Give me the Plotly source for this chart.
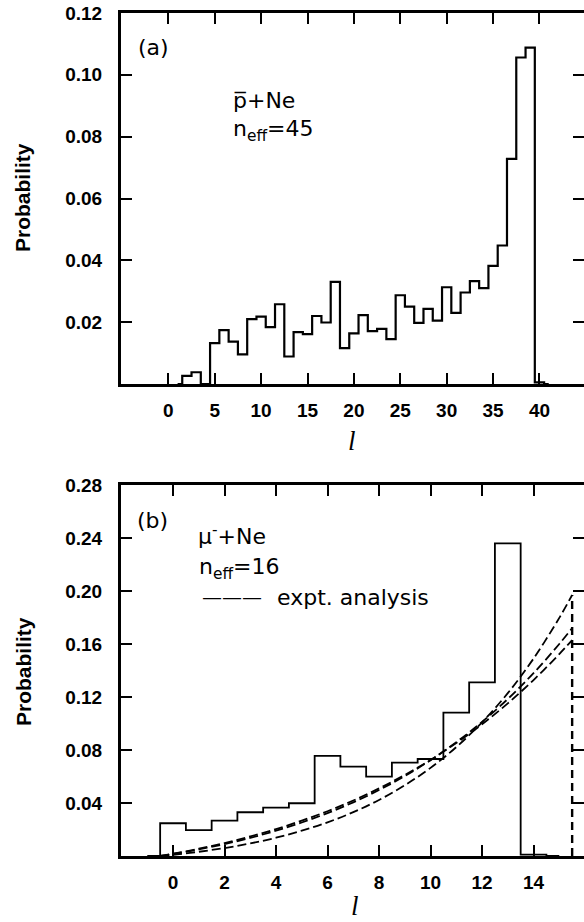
import plotly.graph_objects as go

# ---------------- data ----------------
# panel (a): pbar + Ne, n_eff = 45
l_a = list(range(1, 42))
p_a = [0, 0.0026, 0.0038, 0, 0.0132, 0.0174, 0.0137, 0.0096, 0.0210, 0.0218,
       0.0184, 0.0258, 0.0089, 0.0168, 0.0161, 0.0220, 0.0199, 0.0330, 0.0116, 0.0164,
       0.0223, 0.0171, 0.0178, 0.0145, 0.0287, 0.0250, 0.0198, 0.0243, 0.0205, 0.0313,
       0.0230, 0.0296, 0.0333, 0.0310, 0.0382, 0.0448, 0.0728, 0.1056, 0.1088, 0.0005, 0]

# panel (b): mu- + Ne, n_eff = 16
l_b = list(range(-1, 16))
p_b = [0, 0.0247, 0.0196, 0.0267, 0.0330, 0.0365, 0.0398, 0.0755, 0.0674, 0.0599,
       0.0704, 0.0732, 0.1082, 0.1311, 0.2360, 0.0010, 0]

# expt. analysis curves
l_fit = [-0.5, 0, 1, 2, 3, 4, 5, 6, 7, 8, 9, 10, 11, 12, 13, 14, 15, 15.5]
fit_1 = [0, 0.0009, 0.0032, 0.0060, 0.0095, 0.0138, 0.0191, 0.0254, 0.0331, 0.0423,
         0.0534, 0.0665, 0.0822, 0.1009, 0.1229, 0.1490, 0.1797, 0.1970]
fit_2 = [0, 0.0015, 0.0050, 0.0090, 0.0137, 0.0191, 0.0253, 0.0324, 0.0405, 0.0498,
         0.0603, 0.0723, 0.0859, 0.1012, 0.1185, 0.1380, 0.1600, 0.1720]
fit_3 = [0, 0.0017, 0.0055, 0.0098, 0.0148, 0.0203, 0.0267, 0.0338, 0.0419, 0.0510,
         0.0612, 0.0725, 0.0853, 0.0994, 0.1152, 0.1328, 0.1524, 0.1630]
l_cut = 15.5

xticks_a = [0, 5, 10, 15, 20, 25, 30, 35, 40]
yticks_a = [0.02, 0.04, 0.06, 0.08, 0.10, 0.12]
yticklabels_a = ["0.02", "0.04", "0.06", "0.08", "0.10", "0.12"]
xticks_b = [0, 2, 4, 6, 8, 10, 12, 14]
yticks_b = [0.04, 0.08, 0.12, 0.16, 0.20, 0.24, 0.28]
yticklabels_b = ["0.04", "0.08", "0.12", "0.16", "0.20", "0.24", "0.28"]

# ---------------- figure ----------------
W, H = 584, 922
ML, MR, MT, MB = 121, 0, 13, 66
PH = H - MT - MB
top_lo = 1 - 371 / PH
bot_hi = 1 - (485 - MT) / PH

fig = go.Figure()

fig.add_trace(go.Scatter(x=l_a, y=p_a, mode="lines", line=dict(shape="hvh", color="black", width=2.2),
                         xaxis="x", yaxis="y", showlegend=False, hoverinfo="skip"))
fig.add_trace(go.Scatter(x=l_b, y=p_b, mode="lines", line=dict(shape="hvh", color="black", width=1.8),
                         xaxis="x2", yaxis="y2", showlegend=False, hoverinfo="skip"))
for f in (fit_1, fit_2, fit_3):
    fig.add_trace(go.Scatter(x=l_fit, y=f, mode="lines",
                             line=dict(shape="spline", color="black", width=1.8, dash="9px,4px"),
                             xaxis="x2", yaxis="y2", showlegend=False, hoverinfo="skip"))
fig.add_trace(go.Scatter(x=[l_cut, l_cut], y=[0, fit_1[-1]], mode="lines",
                         line=dict(color="black", width=2.4, dash="8px,5px"),
                         xaxis="x2", yaxis="y2", showlegend=False, hoverinfo="skip"))
# empty traces for right-side tick axes
fig.add_trace(go.Scatter(x=[], y=[], xaxis="x", yaxis="y3", showlegend=False))
fig.add_trace(go.Scatter(x=[], y=[], xaxis="x2", yaxis="y4", showlegend=False))

tickfont = dict(family="Liberation Sans, Arial, sans-serif", size=19, color="black", weight="bold")

xcommon = dict(showgrid=False, zeroline=False, showline=True, linewidth=3, linecolor="black",
               ticks="inside", ticklen=11, tickwidth=2, tickcolor="black", mirror="ticks",
               tickfont=tickfont, ticklabelstandoff=7)
ycommon = dict(showgrid=False, zeroline=False, showline=True, linewidth=3, linecolor="black",
               ticks="inside", ticklen=11, tickwidth=2, tickcolor="black", mirror=False,
               tickfont=tickfont, ticklabelstandoff=12)
yright = dict(showgrid=False, zeroline=False, showline=False, ticks="inside", ticklen=11,
              tickwidth=2, tickcolor="black", showticklabels=False, side="right")

fig.update_layout(
    width=W, height=H, margin=dict(l=ML, r=MR, t=MT, b=MB),
    paper_bgcolor="white", plot_bgcolor="white",
    xaxis=dict(domain=[0, 1], anchor="y", range=[-5.1, 44.8], tickvals=xticks_a, **xcommon),
    yaxis=dict(domain=[top_lo, 1], anchor="x", range=[0, 0.12], tickvals=yticks_a,
               ticktext=yticklabels_a, **ycommon),
    yaxis3=dict(overlaying="y", anchor="x", range=[0, 0.12], tickvals=yticks_a, **yright),
    xaxis2=dict(domain=[0, 1], anchor="y2", range=[-2.02, 15.96], tickvals=xticks_b, **xcommon),
    yaxis2=dict(domain=[0, bot_hi], anchor="x2", range=[0, 0.28], tickvals=yticks_b,
                ticktext=yticklabels_b, **ycommon),
    yaxis4=dict(overlaying="y2", anchor="x2", range=[0, 0.28], tickvals=yticks_b, **yright),
)

def px(x):
    return (x - ML) / (W - ML - MR)

def py(y):
    return (H - MB - y) / PH

txt = dict(family="DejaVu Sans, sans-serif", size=22, color="black")
ann = []
def add(text, x, y, xa="left", ya="middle", font=txt, angle=0):
    ann.append(dict(text=text, x=px(x), y=py(y), xref="paper", yref="paper", showarrow=False,
                    xanchor=xa, yanchor=ya, font=font, textangle=angle, borderpad=0))

add("(a)", 137, 48)
add("p\u0305+Ne", 232, 100)
add("n<sub>eff</sub>=45", 232, 130)
add("(b)", 136, 520)
add("\u03bc<sup>-</sup>+Ne", 197, 535)
add("n<sub>eff</sub>=16", 198, 568)
add("\u2014\u2014\u2014", 201, 597, font=dict(family="DejaVu Sans, sans-serif", size=20, color="black"))
add("expt. analysis", 276, 597)

titlefont = dict(family="Liberation Sans, Arial, sans-serif", size=21, color="black", weight="bold")
add("Probability", 23, 198, xa="center", font=titlefont, angle=-90)
add("Probability", 23, 672, xa="center", font=titlefont, angle=-90)
lfont = dict(family="Liberation Serif, serif", size=27, color="black")
add("<i>l</i>", 352, 441, xa="center", font=lfont)
add("<i>l</i>", 355, 906, xa="center", font=lfont)

fig.update_layout(annotations=ann)
fig.write_html("out.html", config={"displayModeBar": False},
               post_script="document.body.style.margin='0px';document.body.style.overflow='hidden';")
